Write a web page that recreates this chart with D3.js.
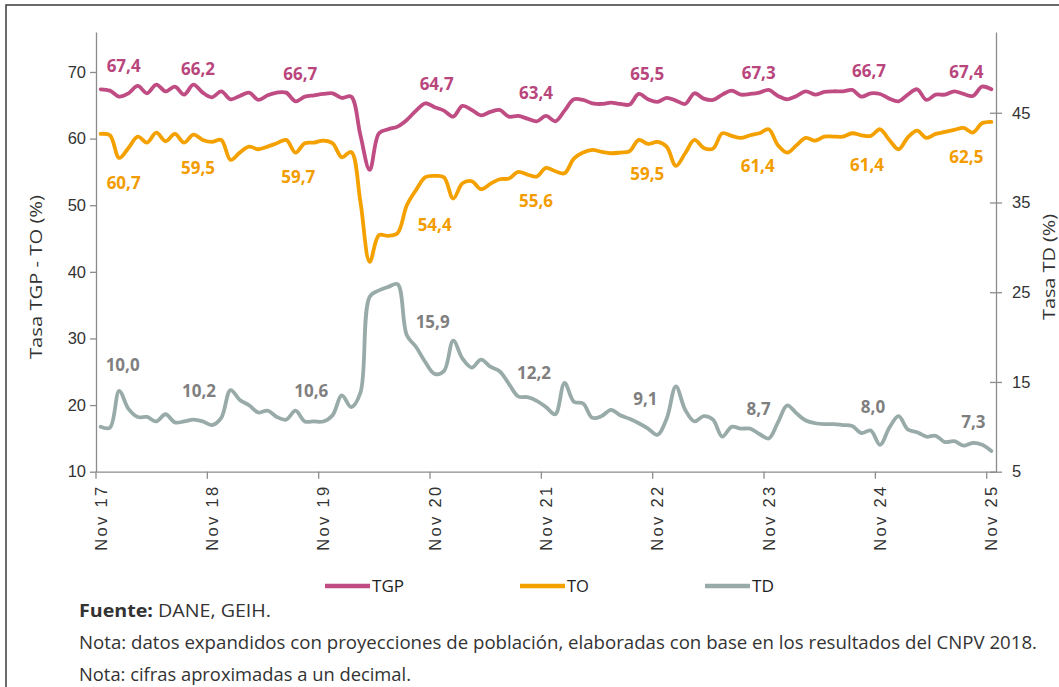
<!DOCTYPE html>
<html>
<head>
<meta charset="utf-8">
<script src="https://cdn.jsdelivr.net/npm/d3@7"></script>
<style>
  body { margin: 0; background: #fff; }
  svg { display: block; font-family: "Open Sans", sans-serif; }
</style>
</head>
<body>
<div class="chart"></div>
<script>
// monthly series, Nov 2017 .. Nov 2025
var tgp = [67.4, 67.2, 66.3, 66.8, 67.9, 66.8, 68.1, 67.1, 67.8, 66.6, 68.1, 66.9, 66.2, 67.1, 65.9, 66.4,
    66.9, 65.8, 66.5, 66.9, 66.9, 65.6, 66.3, 66.5, 66.7, 66.8, 66.1, 66.3, 60.5, 55.3, 60.8, 61.4,
    61.8, 62.8, 64.2, 65.3, 64.7, 64.2, 63.3, 64.9, 64.3, 63.5, 64.0, 64.3, 63.3, 63.4, 63.0, 62.6,
    63.4, 62.6, 64.2, 65.9, 65.8, 65.3, 65.2, 65.4, 65.2, 65.1, 66.7, 65.9, 65.5, 66.1, 65.7, 65.2,
    66.8, 66.0, 65.8, 66.6, 67.2, 66.6, 66.7, 66.9, 67.3, 66.4, 65.9, 66.4, 67.1, 66.6, 67.0, 67.1,
    67.1, 67.3, 66.3, 66.8, 66.7, 66.0, 65.6, 66.6, 67.4, 65.8, 66.6, 66.6, 67.1, 66.7, 66.4, 67.8, 67.4];
var to = [60.7, 60.5, 57.1, 58.6, 60.3, 59.4, 60.9, 59.6, 60.7, 59.4, 60.6, 59.8, 59.5, 59.8, 56.8, 57.9,
    58.8, 58.4, 58.8, 59.3, 59.8, 57.9, 59.3, 59.4, 59.7, 59.3, 57.2, 58.0, 50.5, 41.5, 45.5, 45.4,
    45.8, 50.0, 52.3, 54.2, 54.4, 54.2, 51.0, 53.3, 53.6, 52.4, 53.2, 53.9, 54.0, 55.0, 54.6, 54.3,
    55.6, 55.1, 54.8, 57.0, 57.9, 58.3, 58.0, 57.8, 57.9, 58.1, 59.8, 59.2, 59.5, 58.8, 55.9, 57.8,
    59.8, 58.6, 58.5, 60.8, 60.4, 60.1, 60.5, 60.8, 61.4, 59.0, 57.9, 59.0, 60.1, 59.7, 60.3, 60.3,
    60.3, 60.8, 60.5, 60.4, 61.4, 59.8, 58.4, 60.2, 61.2, 60.1, 60.7, 61.0, 61.3, 61.6, 60.9, 62.3, 62.5];
var td = [10.0, 9.9, 14.0, 12.0, 11.1, 11.1, 10.6, 11.4, 10.5, 10.6, 10.8, 10.6, 10.2, 11.0, 14.1, 13.0,
    12.4, 11.6, 11.8, 11.1, 10.8, 11.8, 10.6, 10.6, 10.6, 11.3, 13.5, 12.2, 13.8, 24.5, 25.2, 25.6,
    25.9, 20.2, 18.9, 17.2, 15.9, 16.2, 19.6, 17.6, 16.6, 17.5, 16.7, 16.2, 14.8, 13.4, 13.3, 12.9,
    12.2, 11.4, 14.9, 12.8, 12.6, 11.0, 11.2, 11.9, 11.3, 10.9, 10.4, 9.8, 9.1, 10.9, 14.5, 11.9,
    10.6, 11.2, 10.8, 8.9, 10.0, 9.8, 9.8, 9.2, 8.7, 10.5, 12.4, 11.5, 10.7, 10.4, 10.3, 10.3,
    10.2, 10.1, 9.3, 9.6, 8.0, 9.9, 11.2, 9.7, 9.4, 8.9, 9.0, 8.3, 8.4, 7.9, 8.2, 8.0, 7.3];

var tickLabels = ["Nov 17", "Nov 18", "Nov 19", "Nov 20", "Nov 21", "Nov 22", "Nov 23", "Nov 24", "Nov 25"];
var leftTicks = [10, 20, 30, 40, 50, 60, 70];
var rightTicks = [5, 15, 25, 35, 45];

// labelled values (every November)
var tgpLabels = [67.4, 66.2, 66.7, 64.7, 63.4, 65.5, 67.3, 66.7, 67.4];
var toLabels = [60.7, 59.5, 59.7, 54.4, 55.6, 59.5, 61.4, 61.4, 62.5];
var tdLabels = [10.0, 10.2, 10.6, 15.9, 12.2, 9.1, 8.7, 8.0, 7.3];

var months = d3.timeMonth.range(new Date(2017, 10, 1), new Date(2025, 11, 1));
var novs = months.filter(function(d) { return d.getMonth() == 10; });

var colTGP = "#bf4d84";
var colTO = "#f4a100";
var colTD = "#98aba8";

var W = 1059, H = 687;
var padL = 96, padR = 996, padT = 32, padB = 471.7;

var svg = d3.select(".chart").append("svg")
    .attr("width", W)
    .attr("height", H);

// frame
svg.append("path")
    .attr("d", "M6," + H + "L6,5L" + W + ",5")
    .attr("fill", "none")
    .attr("stroke", "#3a3a3a")
    .attr("stroke-width", 1.5);

var x = d3.scaleBand()
    .domain(months)
    .range([padL, padR])
    .padding(0);
var bw = x.bandwidth();
var yL = d3.scaleLinear().domain([10, 76]).range([padB, padT]);
var yR = d3.scaleLinear().domain([5, 54]).range([padB, padT]);

function cx(i) { return x(months[i]) + bw / 2; }

// axes
var gL = svg.append("g")
    .attr("transform", "translate(" + padL + ",0)")
    .call(d3.axisLeft(yL).tickValues(leftTicks).tickSize(6).tickPadding(4).tickSizeOuter(0));
var gR = svg.append("g")
    .attr("transform", "translate(" + padR + ",0)")
    .call(d3.axisRight(yR).tickValues(rightTicks).tickSize(6).tickPadding(10).tickSizeOuter(0));
gR.selectAll(".tick line").attr("x1", -6);

var gX = svg.append("g")
    .attr("transform", "translate(0," + padB + ")")
    .call(d3.axisBottom(x).tickValues(novs).tickSize(7).tickSizeOuter(0)
        .tickFormat(function(d, i) { return tickLabels[i]; }));
gX.selectAll(".tick line").attr("transform", "translate(" + (-bw / 2) + ",0)");
gX.selectAll(".tick text")
    .attr("transform", "rotate(-90)")
    .attr("text-anchor", "end")
    .attr("x", -15)
    .attr("y", 0)
    .attr("dy", "0.36em")
    .attr("textLength", 64)
    .attr("lengthAdjust", "spacing");

[gL, gR, gX].forEach(function(g) {
    g.select(".domain").attr("stroke", "#8c8c8c").attr("stroke-width", 1.3);
    g.selectAll(".tick line").attr("stroke", "#8c8c8c").attr("stroke-width", 1.3);
    g.selectAll(".tick text").attr("fill", "#333").style("font-size", "16.5px");
});

// axis titles
svg.append("text")
    .attr("transform", "translate(42,277) rotate(-90)")
    .attr("text-anchor", "middle")
    .attr("fill", "#333")
    .style("font-size", "17px")
    .attr("textLength", 164)
    .attr("lengthAdjust", "spacingAndGlyphs")
    .text("Tasa TGP - TO (%)");
svg.append("text")
    .attr("transform", "translate(1055,267) rotate(-90)")
    .attr("text-anchor", "middle")
    .attr("fill", "#333")
    .style("font-size", "17px")
    .attr("textLength", 106)
    .attr("lengthAdjust", "spacingAndGlyphs")
    .text("Tasa TD (%)");

// lines
function drawLine(data, y, color) {
    var line = d3.line()
        .x(function(d, i) { return cx(i); })
        .y(function(d) { return y(d); })
        .curve(d3.curveCatmullRom.alpha(0.5));
    svg.append("path")
        .datum(data)
        .attr("fill", "none")
        .attr("stroke", color)
        .attr("stroke-width", 3.8)
        .attr("stroke-linejoin", "round")
        .attr("stroke-linecap", "round")
        .attr("d", line);
}
drawLine(tgp, yL, colTGP);
drawLine(to, yL, colTO);
drawLine(td, yR, colTD);

// data labels, nudged like the original
var nudgeTGP = [[23, -17], [-14, -22], [-23, -14], [2, -17], [-10, -17], [-10, -22], [-10, -11], [-11, -17], [-25, -11]];
var nudgeTO = [[23, 55], [-14, 32], [-25, 42], [0, 55], [-10, 39], [-10, 38], [-11, 43], [-13, 42], [-25, 41]];
var nudgeTD = [[22, -56], [-13, -28], [-12, -24], [-2, -46], [-12, -28], [-12, -30], [-10, -23], [-7, -32], [-18, -23]];

function drawLabels(vals, nudge, y, color) {
    svg.append("g").selectAll("text")
        .data(vals)
        .enter()
        .append("text")
        .attr("x", function(d, i) { return cx(i * 12) + nudge[i][0]; })
        .attr("y", function(d, i) { return y(d) + nudge[i][1]; })
        .attr("text-anchor", "middle")
        .attr("fill", color)
        .style("font-size", "17px")
        .style("font-weight", 700)
        .text(function(d) { return d3.format(".1f")(d).replace(".", ","); });
}
drawLabels(tgpLabels, nudgeTGP, yL, "#b9457d");
drawLabels(toLabels, nudgeTO, yL, "#f29c00");
drawLabels(tdLabels, nudgeTD, yR, "#7f7f7f");

// legend
var legend = [["TGP", colTGP, 325], ["TO", colTO, 520], ["TD", colTD, 705]];
legend.forEach(function(l) {
    svg.append("line")
        .attr("x1", l[2]).attr("x2", l[2] + 45)
        .attr("y1", 586).attr("y2", 586)
        .attr("stroke", l[1])
        .attr("stroke-width", 4.5);
    svg.append("text")
        .attr("x", l[2] + 47)
        .attr("y", 592)
        .attr("fill", "#222")
        .style("font-size", "16px")
        .attr("textLength", l[0].length == 3 ? 32 : 22)
        .attr("lengthAdjust", "spacingAndGlyphs")
        .text(l[0]);
});

// notes
var f = svg.append("text")
    .attr("x", 79)
    .attr("y", 617)
    .attr("fill", "#333")
    .style("font-size", "18px")
    .attr("textLength", 192)
    .attr("lengthAdjust", "spacingAndGlyphs");
f.append("tspan").style("font-weight", 700).text("Fuente:");
f.append("tspan").text(" DANE, GEIH.");

svg.append("text")
    .attr("x", 79)
    .attr("y", 649)
    .attr("fill", "#333")
    .style("font-size", "18px")
    .attr("textLength", 958)
    .attr("lengthAdjust", "spacingAndGlyphs")
    .text("Nota: datos expandidos con proyecciones de población, elaboradas con base en los resultados del CNPV 2018.");

svg.append("text")
    .attr("x", 79)
    .attr("y", 681)
    .attr("fill", "#333")
    .style("font-size", "18px")
    .attr("textLength", 332)
    .attr("lengthAdjust", "spacingAndGlyphs")
    .text("Nota: cifras aproximadas a un decimal.");
</script>
</body>
</html>
